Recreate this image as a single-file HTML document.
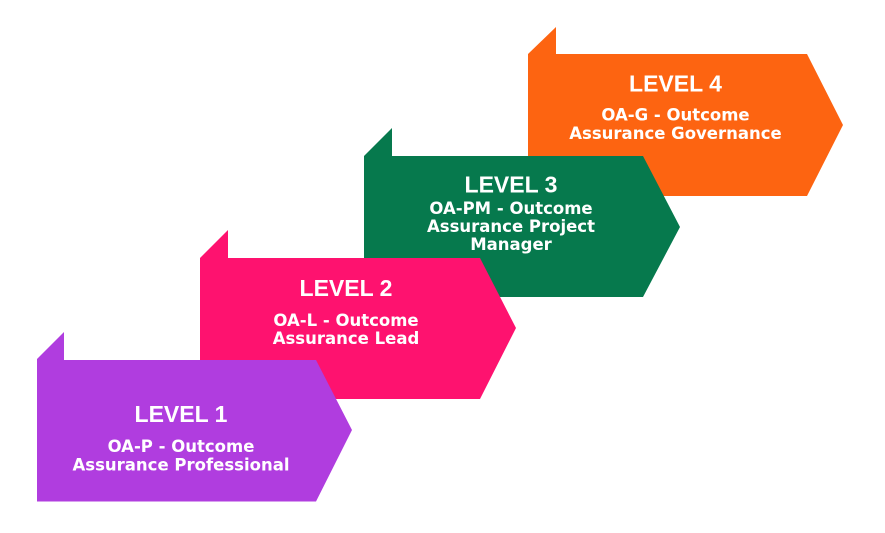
<!DOCTYPE html>
<html><head><meta charset="utf-8"><style>
html,body{margin:0;padding:0;background:#fff;}
svg{display:block;}
.t{font-family:"Liberation Sans",sans-serif;font-weight:bold;font-size:23px;fill:#fff;text-anchor:middle;}
.s{font-family:"DejaVu Sans",sans-serif;font-weight:bold;font-size:16.5px;fill:#fff;text-anchor:middle;}
</style></head><body>
<svg width="885" height="533" viewBox="0 0 885 533" xmlns="http://www.w3.org/2000/svg">
<!-- Level 4 -->
<polygon fill="#fd6411" points="528,54 556,27 556,54 807,54 843,125 807,196 528,196"/>
<text class="t" x="675.5" y="91.5">LEVEL 4</text>
<text class="s" x="675.5" y="120.5">OA-G - Outcome</text>
<text class="s" x="675.5" y="139">Assurance Governance</text>
<!-- Level 3 -->
<polygon fill="#06794d" points="364,156 392,128 392,156 643,156 680,227 643,297 364,297"/>
<text class="t" x="511" y="192.5">LEVEL 3</text>
<text class="s" x="511" y="214">OA-PM - Outcome</text>
<text class="s" x="511" y="232">Assurance Project</text>
<text class="s" x="511" y="250">Manager</text>
<!-- Level 2 -->
<polygon fill="#fe126f" points="200,258 228,230 228,258 480,258 516,328 480,399 200,399"/>
<text class="t" x="346" y="296">LEVEL 2</text>
<text class="s" x="346" y="326">OA-L - Outcome</text>
<text class="s" x="346" y="344">Assurance Lead</text>
<!-- Level 1 -->
<polygon fill="#b03ddf" points="37,359 64,332 64,360 316,360 352,430 316,501.5 37,501.5"/>
<text class="t" x="181" y="422">LEVEL 1</text>
<text class="s" x="181" y="452">OA-P - Outcome</text>
<text class="s" x="181" y="470.5">Assurance Professional</text>
</svg>
</body></html>
